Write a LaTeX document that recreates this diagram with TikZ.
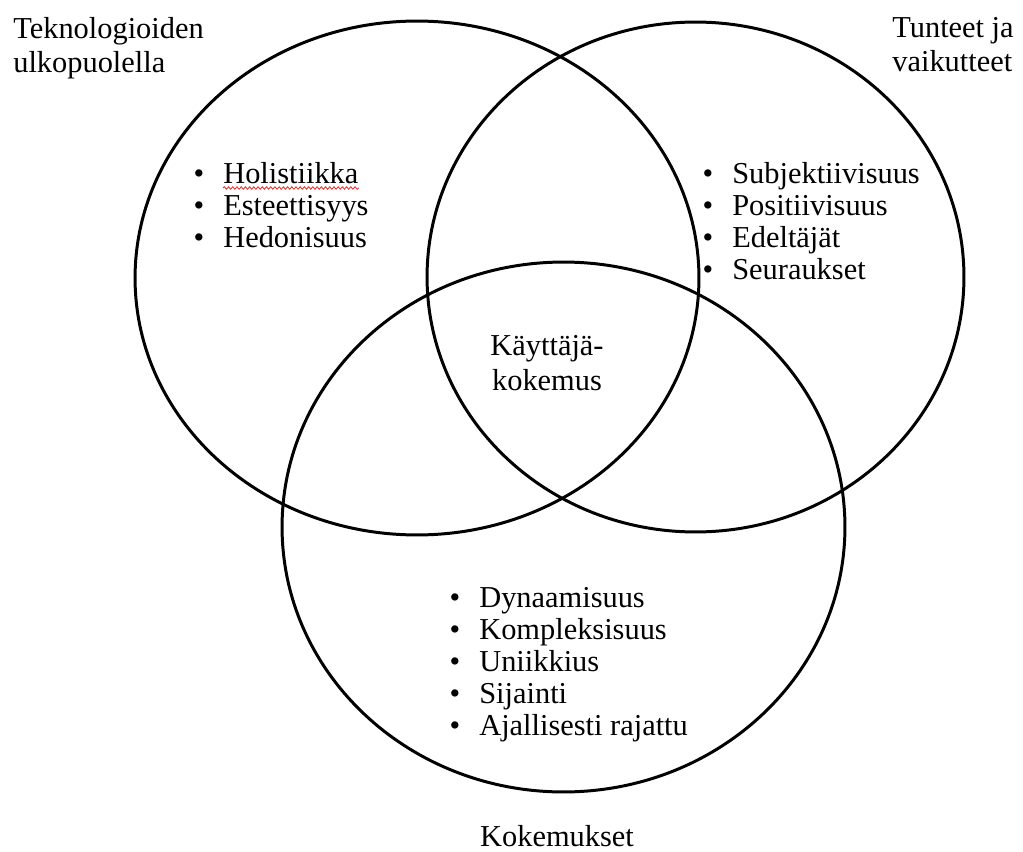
\documentclass[tikz,border=0pt]{standalone}
\usepackage{fontspec}
\setmainfont{Liberation Serif}
\usepackage{tikz}
\usetikzlibrary{calc, decorations.pathmorphing}
\definecolor{spell}{RGB}{232,52,52}
\newcommand{\vennfont}{\fontsize{17.3}{19.5}\selectfont}
\newcommand{\bul}{\llap{\textbullet\hspace{0.38cm}}}
\tikzset{
  ring/.style={draw=black, line width=1.7pt},
  corner/.style={inner sep=0pt, align=left, anchor=north west, font=\vennfont},
  listitem/.style={inner sep=0pt, anchor=base west, font=\vennfont,
                   execute at begin node=\bul},
}

\begin{document}
\begin{tikzpicture}[x=0.02cm, y=-0.02cm]
  \useasboundingbox (0,0) rectangle (1023,851);

  % the three sets
  \draw[ring] (417,278) ellipse [x radius=5.64cm, y radius=5.14cm];
  \draw[ring] (695.5,277) ellipse [x radius=5.37cm, y radius=5.1cm];
  \draw[ring] (563.5,527) ellipse [x radius=5.63cm, y radius=5.3cm];

  % set names
  \node[corner] (tekno) at (13,17) {Teknologioiden\\ulkopuolella};
  \node[corner] (tunteet) at (892,17) {Tunteet ja\\vaikutteet};
  \node[corner, anchor=base] (kokemukset) at (557,846) {Kokemukset};
  \node[inner sep=0pt, align=center, font=\vennfont] (kaytto) at (547,363)
    {Käyttäjä-\\kokemus};

  % lists
  \foreach \t [count=\i] in {Holistiikka, Esteettisyys, Hedonisuus}
    \node[listitem] (ulko-\i) at (223, {183+32*(\i-1)}) {\t};
  \foreach \t [count=\i] in {Subjektiivisuus, Positiivisuus, Edeltäjät, Seuraukset}
    \node[listitem] (tunne-\i) at (732, {183+32*(\i-1)}) {\t};
  \foreach \t [count=\i] in {Dynaamisuus, Kompleksisuus, Uniikkius, Sijainti,
                             Ajallisesti rajattu}
    \node[listitem] (koke-\i) at (479, {607+32*(\i-1)}) {\t};

  \draw[spell, line width=0.5pt, decorate,
        decoration={snake, amplitude=0.7pt, segment length=2.4pt}]
    ($(ulko-1.base west)+(0,5)$) -- ($(ulko-1.base east)+(0,5)$);
\end{tikzpicture}
\end{document}
